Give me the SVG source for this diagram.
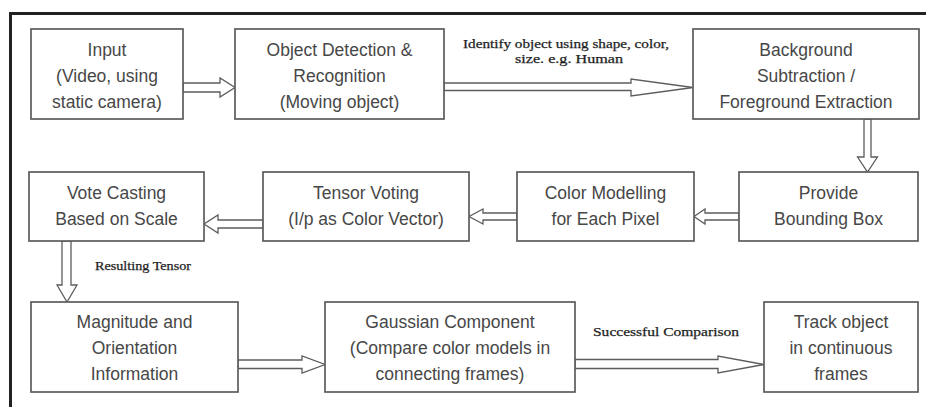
<svg xmlns="http://www.w3.org/2000/svg" width="926" height="407" viewBox="0 0 926 407">
  <style>
    .box { fill: #ffffff; stroke: #5c5c5c; stroke-width: 1.7; }
    .lbl { font-family: "Liberation Sans", Arial, sans-serif; font-size: 17.5px; fill: #474747; text-anchor: middle; }
    .note { font-family: "Liberation Serif", "Times New Roman", serif; font-size: 12.5px; fill: #1e1e1e; stroke: #1e1e1e; stroke-width: 0.25; }
    .arrow { fill: #ffffff; stroke: #5c5c5c; stroke-width: 1.3; stroke-linejoin: miter; }
    .frame { stroke: #222222; stroke-width: 3; fill: none; }
  </style>
  <rect width="926" height="407" fill="#ffffff"/>

  <!-- outer frame (top and left borders) -->
  <path class="frame" d="M10.5 407 V13.5 H926"/>

  <!-- hollow block arrows -->
  <g id="connectors">
    <polygon class="arrow" points="183,83 220,83 220,78 235,87.5 220,97 220,92 183,92"/>
    <polygon class="arrow" points="444,83 631,83 631,79 693,87.5 631,96 631,90.5 444,90.5"/>
    <polygon class="arrow" points="864,119 864,157 857.5,157 867.5,172 877.5,157 871,157 871,119"/>
    <polygon class="arrow" points="739,213 705,213 705,209 694,216.5 705,224 705,220 739,220"/>
    <polygon class="arrow" points="517,213 483,213 483,209 469,216.5 483,224 483,220 517,220"/>
    <polygon class="arrow" points="263,220 218,220 218,215 204,224 218,233 218,228 263,228"/>
    <polygon class="arrow" points="62,241 62,285 57,285 67,302 77,285 71,285 71,241"/>
    <polygon class="arrow" points="238,360 302,360 302,356 325,364.5 302,373 302,368.5 238,368.5"/>
    <polygon class="arrow" points="575,359.5 718,359.5 718,356 764,364.5 718,373 718,368.5 575,368.5"/>
  </g>

  <!-- connector notes -->
  <text class="note" x="463" y="48" textLength="206" lengthAdjust="spacingAndGlyphs">Identify object using shape, color,</text>
  <text class="note" x="515" y="63" textLength="108" lengthAdjust="spacingAndGlyphs">size. e.g. Human</text>
  <text class="note" x="95" y="270" textLength="96" lengthAdjust="spacingAndGlyphs">Resulting Tensor</text>
  <text class="note" x="593" y="336" textLength="146" lengthAdjust="spacingAndGlyphs">Successful Comparison</text>

  <g id="input">
    <rect class="box" x="31" y="29" width="152" height="90"/>
    <text class="lbl" x="107" y="56">Input</text>
    <text class="lbl" x="107" y="82">(Video, using</text>
    <text class="lbl" x="107" y="108">static camera)</text>
  </g>
  <g id="detection">
    <rect class="box" x="235" y="29" width="209" height="90"/>
    <text class="lbl" x="339.5" y="56">Object Detection &amp;</text>
    <text class="lbl" x="339.5" y="82">Recognition</text>
    <text class="lbl" x="339.5" y="108">(Moving object)</text>
  </g>
  <g id="background">
    <rect class="box" x="693" y="29" width="226" height="90"/>
    <text class="lbl" x="806" y="56">Background</text>
    <text class="lbl" x="806" y="82">Subtraction /</text>
    <text class="lbl" x="806" y="108">Foreground Extraction</text>
  </g>
  <g id="bounding">
    <rect class="box" x="739" y="172" width="179" height="69"/>
    <text class="lbl" x="828.5" y="199">Provide</text>
    <text class="lbl" x="828.5" y="225">Bounding Box</text>
  </g>
  <g id="color-model">
    <rect class="box" x="517" y="172" width="177" height="69"/>
    <text class="lbl" x="605.5" y="199">Color Modelling</text>
    <text class="lbl" x="605.5" y="225">for Each Pixel</text>
  </g>
  <g id="tensor-voting">
    <rect class="box" x="263" y="172" width="206" height="69"/>
    <text class="lbl" x="366" y="199">Tensor Voting</text>
    <text class="lbl" x="366" y="225">(I/p as Color Vector)</text>
  </g>
  <g id="vote-casting">
    <rect class="box" x="29" y="172" width="175" height="69"/>
    <text class="lbl" x="116.5" y="199">Vote Casting</text>
    <text class="lbl" x="116.5" y="225">Based on Scale</text>
  </g>
  <g id="magnitude">
    <rect class="box" x="31" y="302" width="207" height="90"/>
    <text class="lbl" x="134.5" y="328">Magnitude and</text>
    <text class="lbl" x="134.5" y="354">Orientation</text>
    <text class="lbl" x="134.5" y="380">Information</text>
  </g>
  <g id="gaussian">
    <rect class="box" x="325" y="302" width="250" height="90"/>
    <text class="lbl" x="450" y="328">Gaussian Component</text>
    <text class="lbl" x="450" y="354">(Compare color models in</text>
    <text class="lbl" x="450" y="380">connecting frames)</text>
  </g>
  <g id="track">
    <rect class="box" x="764" y="302" width="154" height="90"/>
    <text class="lbl" x="841" y="328">Track object</text>
    <text class="lbl" x="841" y="354">in continuous</text>
    <text class="lbl" x="841" y="380">frames</text>
  </g>
</svg>
